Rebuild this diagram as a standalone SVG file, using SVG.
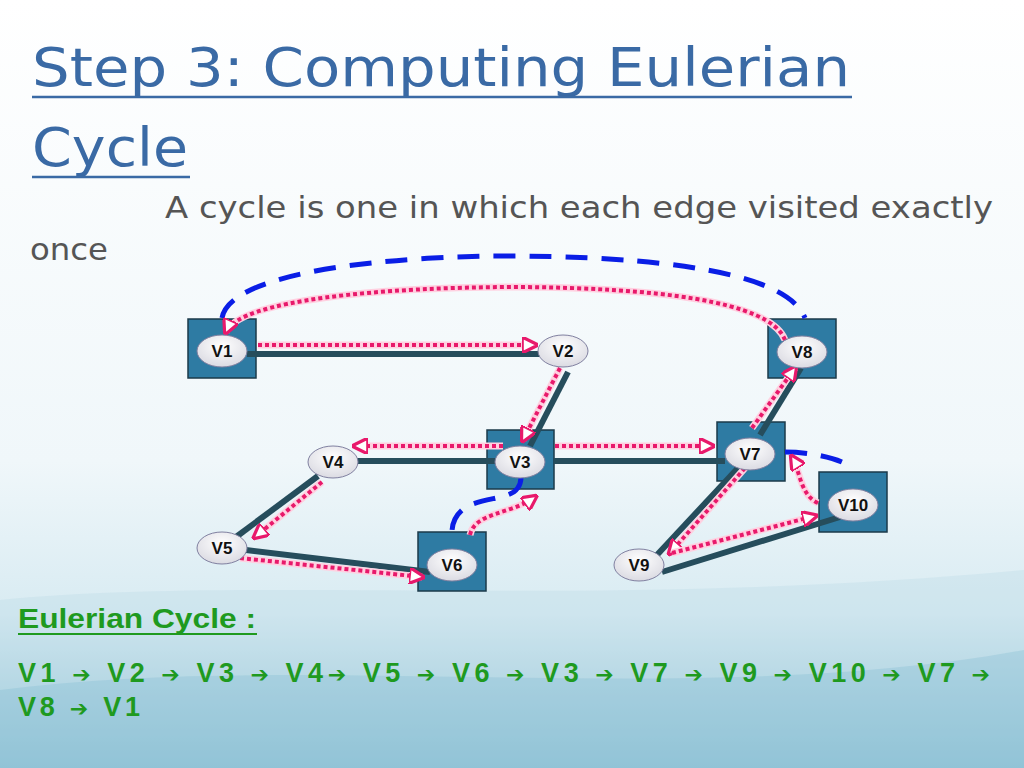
<svg xmlns="http://www.w3.org/2000/svg" width="1024" height="768" viewBox="0 0 1024 768">
<defs>
<linearGradient id="bg" x1="0" y1="0" x2="0" y2="1">
<stop offset="0" stop-color="#ffffff"/><stop offset="0.6" stop-color="#f0f7fa"/><stop offset="0.8" stop-color="#d8ebf2"/><stop offset="1" stop-color="#8fc2d5"/>
</linearGradient>
<radialGradient id="el" cx="0.5" cy="0.35" r="0.7"><stop offset="0" stop-color="#ffffff"/><stop offset="1" stop-color="#d8d8e0"/></radialGradient>
<marker id="ah" viewBox="0 0 10 10" refX="8" refY="5" markerWidth="4" markerHeight="4" orient="auto" markerUnits="strokeWidth">
<path d="M0,0 L10,5 L0,10 Z" fill="#fff" stroke="#e8196b" stroke-width="2"/>
</marker>
<style>
.box{fill:#2e7ba3;stroke:#1b3a4a;stroke-width:1.5}
.ell{fill:url(#el);stroke:#8080a0;stroke-width:1}
.lbl{font-family:"Liberation Sans",Arial,sans-serif;font-weight:bold;font-size:17px;fill:#111;text-anchor:middle}
.edge{stroke:#264d5c;stroke-width:6;fill:none}
.blue{stroke:#0a1ee6;stroke-width:5;fill:none;stroke-dasharray:22,14}
.pw{stroke:#ffd0e0;stroke-width:7;fill:none}
.pk{stroke:#e8196b;stroke-width:4;fill:none;stroke-dasharray:4,3;marker-end:url(#ah)}
.gr{font-family:"Liberation Sans",Arial,sans-serif;font-weight:bold;font-size:27px;fill:#1f9a1f}
.ar{font-family:"DejaVu Sans",sans-serif;font-size:22px}
</style>
</defs>
<rect width="1024" height="768" fill="url(#bg)"/>
<path d="M0,600 C250,575 600,610 1024,570 L1024,768 L0,768 Z" fill="#b5d8e5" opacity="0.3"/>
<path d="M0,690 C300,650 700,710 1024,650 L1024,768 L0,768 Z" fill="#7fb9cf" opacity="0.3"/>
<g font-family="'DejaVu Sans',sans-serif" fill="#3a6aa5">
<text x="32" y="86" font-size="54" textLength="818" lengthAdjust="spacingAndGlyphs">Step 3: Computing Eulerian</text>
<line x1="32" y1="97" x2="852" y2="97" stroke="#3a6aa5" stroke-width="2.5"/>
<text x="32" y="166" font-size="54" textLength="156" lengthAdjust="spacingAndGlyphs">Cycle</text>
<line x1="32" y1="177" x2="190" y2="177" stroke="#3a6aa5" stroke-width="2.5"/>
</g>
<g font-family="'DejaVu Sans',sans-serif" font-size="31" fill="#555">
<text x="165" y="218" textLength="828" lengthAdjust="spacingAndGlyphs">A cycle is one in which each edge visited exactly</text>
<text x="30" y="260" textLength="78" lengthAdjust="spacingAndGlyphs">once</text>
</g>
<g id="nodes-boxes">
<rect class="box" x="188" y="319" width="68" height="59"/>
<rect class="box" x="768" y="319" width="68" height="59"/>
<rect class="box" x="487" y="430" width="67" height="59"/>
<rect class="box" x="717" y="422" width="68" height="59"/>
<rect class="box" x="819" y="472" width="68" height="60"/>
<rect class="box" x="418" y="532" width="68" height="59"/>
</g>
<g id="connectors">
<line class="edge" x1="247" y1="354" x2="545" y2="354"/>
<line class="edge" x1="568" y1="372" x2="530" y2="446"/>
<line class="edge" x1="355" y1="461" x2="500" y2="461"/>
<line class="edge" x1="554" y1="461" x2="725" y2="461"/>
<line class="edge" x1="760" y1="435" x2="801" y2="368"/>
<line class="edge" x1="318" y1="476" x2="236" y2="537"/>
<line class="edge" x1="246" y1="550" x2="430" y2="572"/>
<line class="edge" x1="738" y1="468" x2="656" y2="556"/>
<line class="edge" x1="662" y1="572" x2="840" y2="517"/>
<path class="blue" d="M222,318 C230,270 400,255 520,256 C700,258 790,280 805,318"/>
<path class="blue" d="M521,478 C520,500 495,495 470,505 C455,512 452,525 452,532"/>
<path class="blue" d="M785,452 C810,452 835,458 846,464"/>
<g id="walk">
<path class="pw" d="M258,345 L535,345"/><path class="pk" d="M258,345 L535,345"/>
<path class="pw" d="M560,368 L523,440"/><path class="pk" d="M560,368 L523,440"/>
<path class="pw" d="M503,446 L355,446"/><path class="pk" d="M503,446 L355,446"/>
<path class="pw" d="M322,482 L255,537"/><path class="pk" d="M322,482 L255,537"/>
<path class="pw" d="M240,558 L422,577"/><path class="pk" d="M240,558 L422,577"/>
<path class="pw" d="M470,535 C475,512 510,515 535,497"/><path class="pk" d="M470,535 C475,512 510,515 535,497"/>
<path class="pw" d="M555,446 L712,446"/><path class="pk" d="M555,446 L712,446"/>
<path class="pw" d="M745,468 L670,553"/><path class="pk" d="M745,468 L670,553"/>
<path class="pw" d="M672,553 L815,516"/><path class="pk" d="M672,553 L815,516"/>
<path class="pw" d="M818,503 C800,495 800,470 792,457"/><path class="pk" d="M818,503 C800,495 800,470 792,457"/>
<path class="pw" d="M752,428 L795,368"/><path class="pk" d="M752,428 L795,368"/>
<path class="pw" d="M785,340 C770,300 650,288 520,287 C380,287 240,300 226,332"/><path class="pk" d="M785,340 C770,300 650,288 520,287 C380,287 240,300 226,332"/>
</g>
</g>
<g id="V1"><ellipse class="ell" cx="222" cy="351" rx="25" ry="16"/><text class="lbl" x="222" y="357">V1</text></g>
<g id="V2"><ellipse class="ell" cx="563" cy="351" rx="25" ry="16"/><text class="lbl" x="563" y="357">V2</text></g>
<g id="V8"><ellipse class="ell" cx="802" cy="352" rx="25" ry="16"/><text class="lbl" x="802" y="358">V8</text></g>
<g id="V3"><ellipse class="ell" cx="520" cy="462" rx="25" ry="16"/><text class="lbl" x="520" y="468">V3</text></g>
<g id="V4"><ellipse class="ell" cx="333" cy="462" rx="25" ry="16"/><text class="lbl" x="333" y="468">V4</text></g>
<g id="V7"><ellipse class="ell" cx="750" cy="454" rx="25" ry="16"/><text class="lbl" x="750" y="460">V7</text></g>
<g id="V10"><ellipse class="ell" cx="853" cy="505" rx="25" ry="16"/><text class="lbl" x="853" y="511">V10</text></g>
<g id="V5"><ellipse class="ell" cx="222" cy="548" rx="25" ry="16"/><text class="lbl" x="222" y="554">V5</text></g>
<g id="V6"><ellipse class="ell" cx="452" cy="565" rx="25" ry="16"/><text class="lbl" x="452" y="571">V6</text></g>
<g id="V9"><ellipse class="ell" cx="639" cy="565" rx="25" ry="16"/><text class="lbl" x="639" y="571">V9</text></g>
<text class="gr" x="18" y="628" textLength="238" lengthAdjust="spacingAndGlyphs">Eulerian Cycle :</text>
<line x1="18" y1="634" x2="257" y2="634" stroke="#1f9a1f" stroke-width="2"/>
<text class="gr" x="18" y="682" textLength="972" lengthAdjust="spacing">V1 <tspan class="ar">➔</tspan> V2 <tspan class="ar">➔</tspan> V3 <tspan class="ar">➔</tspan> V4<tspan class="ar">➔</tspan> V5 <tspan class="ar">➔</tspan> V6 <tspan class="ar">➔</tspan> V3 <tspan class="ar">➔</tspan> V7 <tspan class="ar">➔</tspan> V9 <tspan class="ar">➔</tspan> V10 <tspan class="ar">➔</tspan> V7 <tspan class="ar">➔</tspan></text>
<text class="gr" x="18" y="716" textLength="122" lengthAdjust="spacing">V8 <tspan class="ar">➔</tspan> V1</text>
</svg>
